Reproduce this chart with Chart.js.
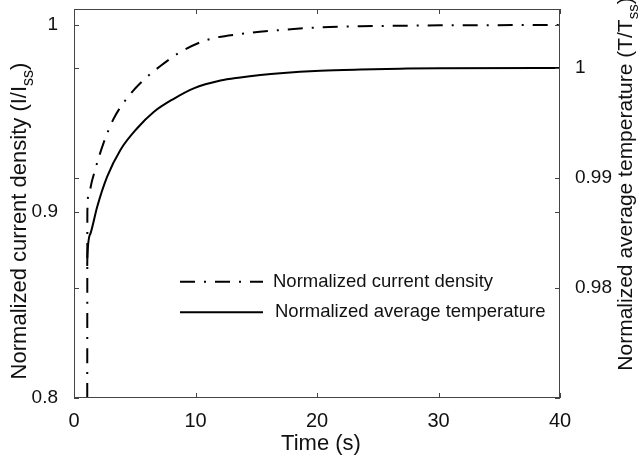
<!DOCTYPE html>
<html>
<head>
<meta charset="utf-8">
<script src="https://cdn.jsdelivr.net/npm/chart.js@4.4.1/dist/chart.umd.min.js"></script>
<style>
  html, body { margin: 0; padding: 0; background: #fff; }
  #wrap { width: 642px; height: 457px; }
</style>
</head>
<body>
<div id="wrap"><canvas id="chart"></canvas></div>
<script>
// values
const timeCurrent = [1.09, 1.1, 1.22, 1.5, 2.05, 2.43, 3.25, 4.38, 5.47, 7.11, 8.76, 10.95, 13.69, 16.98, 20.41, 23.56, 26.85, 30.14, 40];
const currentDensity = [0.8, 0.9, 0.9099, 0.9169, 0.9292, 0.9367, 0.9496, 0.9609, 0.9689, 0.978, 0.9855, 0.992, 0.9952, 0.9973, 0.9988, 0.9993, 0.9996, 0.9998, 1.0];
const timeTemp = [1.09, 1.1, 1.36, 1.91, 2.73, 3.82, 5.2, 6.56, 8.21, 9.85, 12.05, 13.69, 15.34, 16.98, 20.27, 23.56, 26.85, 30.14, 40];
const avgTemp = [0.982, 0.98285, 0.98497, 0.98739, 0.99012, 0.99255, 0.99452, 0.996, 0.9972, 0.99815, 0.99886, 0.99914, 0.99936, 0.99953, 0.99975, 0.99986, 0.99993, 0.99998, 1.0];
const xTicks = [0, 10, 20, 30, 40];
const leftTicks = [0.8, 0.9, 1.0];
const rightTicks = [0.98, 0.99, 1.0];

const FONT = "'Liberation Sans', Arial, Helvetica, sans-serif";
const INK = '#111';

function toPoints(xs, ys) {
  return xs.map((x, i) => ({ x: x, y: ys[i] }));
}

// text with a subscript part, drawn centred on (0,0)
function drawParts(ctx, parts, size) {
  const widths = parts.map(p => {
    ctx.font = (p.sub ? Math.round(size * 0.72) : size) + 'px ' + FONT;
    return ctx.measureText(p.text).width;
  });
  let x = -widths.reduce((a, b) => a + b, 0) / 2;
  parts.forEach((p, i) => {
    ctx.font = (p.sub ? Math.round(size * 0.72) : size) + 'px ' + FONT;
    ctx.fillText(p.text, x, p.sub ? size * 0.3 : 0);
    x += widths[i];
  });
}

const framePlugin = {
  id: 'frame',
  afterDraw(chart) {
    const { ctx, chartArea: a, scales } = chart;
    ctx.save();
    ctx.strokeStyle = '#444';
    ctx.lineWidth = 1;
    ctx.strokeRect(a.left + 0.5, a.top + 0.5, a.right - a.left - 1, a.bottom - a.top - 1);
    ctx.beginPath();
    scales.x.ticks.forEach(t => {
      const px = Math.round(scales.x.getPixelForValue(t.value)) + 0.5;
      ctx.moveTo(px, a.bottom); ctx.lineTo(px, a.bottom - 5);
      ctx.moveTo(px, a.top); ctx.lineTo(px, a.top + 5);
    });
    // each y axis puts its ticks on both sides of the box
    [scales.y, scales.y1].forEach(s => {
      s.ticks.forEach(t => {
        const py = Math.round(s.getPixelForValue(t.value)) + 0.5;
        ctx.moveTo(a.left, py); ctx.lineTo(a.left + 5, py);
        ctx.moveTo(a.right, py); ctx.lineTo(a.right - 5, py);
      });
    });
    ctx.stroke();

    // legend inside the plot
    ctx.textBaseline = 'middle';
    ctx.textAlign = 'left';
    ctx.fillStyle = INK;
    ctx.font = '18.5px ' + FONT;
    const rows = [281.7, 312.3];
    chart.data.datasets.forEach((ds, i) => {
      ctx.beginPath();
      ctx.setLineDash(ds.borderDash || []);
      ctx.strokeStyle = ds.borderColor;
      ctx.lineWidth = ds.borderWidth;
      ctx.moveTo(180, rows[i]);
      ctx.lineTo(263, rows[i]);
      ctx.stroke();
      ctx.setLineDash([]);
      ctx.fillText(ds.label, 273 + i * 2, rows[i]);
    });

    // axis titles
    ctx.textBaseline = 'alphabetic';
    ctx.fillStyle = INK;
    ctx.save();
    ctx.translate(26, 221);
    ctx.rotate(-Math.PI / 2);
    drawParts(ctx, [{ text: 'Normalized current density (I/I' }, { text: 'ss', sub: true }, { text: ')' }], 22);
    ctx.restore();

    ctx.save();
    ctx.translate(632, 184);
    ctx.rotate(-Math.PI / 2);
    drawParts(ctx, [{ text: 'Normalized average temperature (T/T' }, { text: 'ss', sub: true }, { text: ')' }], 21);
    ctx.restore();

    ctx.save();
    ctx.translate(321, 450);
    drawParts(ctx, [{ text: 'Time (s)' }], 22);
    ctx.restore();
    ctx.restore();
  }
};

const fmt = v => String(+Number(v).toFixed(2));

new Chart(document.getElementById('chart'), {
  type: 'line',
  data: {
    datasets: [{
      label: 'Normalized current density',
      data: toPoints(timeCurrent, currentDensity),
      yAxisID: 'y',
      borderColor: '#000',
      borderWidth: 2,
      borderDash: [15, 9, 2, 9],
      pointRadius: 0,
      cubicInterpolationMode: 'monotone',
      fill: false
    }, {
      label: 'Normalized average temperature',
      data: toPoints(timeTemp, avgTemp),
      yAxisID: 'y1',
      borderColor: '#000',
      borderWidth: 2,
      pointRadius: 0,
      cubicInterpolationMode: 'monotone',
      fill: false
    }]
  },
  options: {
    responsive: true,
    maintainAspectRatio: false,
    animation: false,
    layout: { padding: { top: 9, left: 0, right: 0, bottom: 0 } },
    plugins: { legend: { display: false }, tooltip: { enabled: false } },
    scales: {
      x: {
        type: 'linear',
        min: 0,
        max: 40,
        afterBuildTicks: s => { s.ticks = xTicks.map(v => ({ value: v })); },
        afterFit: s => { s.height = 59; s.paddingLeft = 0; s.paddingRight = 0; },
        grid: { display: false },
        border: { display: false },
        ticks: { font: { size: 20, family: FONT }, color: INK, padding: 3, maxRotation: 0 }
      },
      y: {
        position: 'left',
        min: 0.8,
        max: 1.00858,
        afterBuildTicks: s => { s.ticks = leftTicks.map(v => ({ value: v })); },
        afterFit: s => { s.width = 74; s.paddingTop = 0; s.paddingBottom = 0; },
        grid: { display: false },
        border: { display: false },
        ticks: { font: { size: 19, family: FONT }, color: INK, padding: 8, callback: fmt }
      },
      y1: {
        position: 'right',
        min: 0.97,
        max: 1.00536,
        afterBuildTicks: s => { s.ticks = rightTicks.map(v => ({ value: v })); },
        afterFit: s => { s.width = 82; s.paddingTop = 0; s.paddingBottom = 0; },
        grid: { display: false },
        border: { display: false },
        ticks: { font: { size: 19, family: FONT }, color: INK, padding: 7, callback: fmt }
      }
    }
  },
  plugins: [framePlugin]
});
</script>
</body>
</html>
